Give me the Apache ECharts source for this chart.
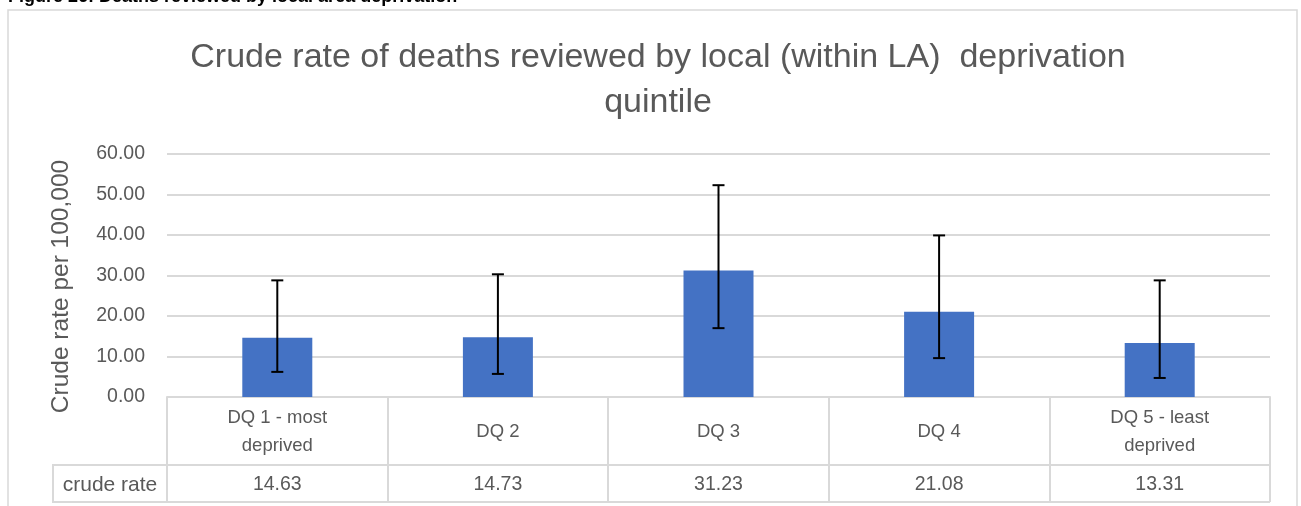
<!DOCTYPE html>
<html><head><meta charset="utf-8">
<script src="https://cdn.jsdelivr.net/npm/echarts@6/dist/echarts.min.js"></script>
<style>html,body{margin:0;padding:0;background:#fff;}#c{width:1301px;height:506px;}</style>
</head><body><div id="c"></div>
<script>
const categories = ['DQ 1 - most\ndeprived', 'DQ 2', 'DQ 3', 'DQ 4', 'DQ 5 - least\ndeprived'];
const crudeRate = [14.63, 14.73, 31.23, 21.08, 13.31];
const lowerCI = [6.2, 5.7, 17.0, 9.6, 4.7];
const upperCI = [28.8, 30.3, 52.3, 39.9, 28.8];
const yTicks = { min: 0, max: 60, interval: 10 };
const rowLabel = 'crude rate';
const titleText = 'Crude rate of deaths reviewed by local (within LA)  deprivation\nquintile';
const captionText = 'Figure 26: Deaths reviewed by local area deprivation';

const FONT = 'Liberation Sans';
const chart = echarts.init(document.getElementById('c'), null, { renderer: 'canvas' });
const lineCol = '#d9d9d9';
const txtCol = '#595959';

chart.setOption({
  animation: false,
  textStyle: { fontFamily: FONT },
  title: {
    text: titleText, left: 653, top: 30, textAlign: 'center',
    textStyle: { fontFamily: FONT, fontSize: 34, fontWeight: 'normal', color: txtCol, lineHeight: 45 }
  },
  grid: { left: 167, right: 31, top: 154, bottom: 109, containLabel: false },
  xAxis: [{
    type: 'category', data: categories, position: 'bottom',
    axisLine: { show: true, lineStyle: { color: lineCol, width: 2 } },
    axisTick: { show: true, length: 105, lineStyle: { color: lineCol, width: 2 } },
    axisLabel: { margin: 35, verticalAlign: 'middle', color: txtCol, fontSize: 18.5, lineHeight: 28, fontFamily: FONT, interval: 0 }
  }, {
    type: 'category', data: categories, position: 'bottom', offset: 67,
    axisLine: { show: false }, axisTick: { show: false },
    axisLabel: { margin: 21, verticalAlign: 'middle', color: txtCol, fontSize: 19.5, fontFamily: FONT, interval: 0,
      formatter: (v, i) => crudeRate[i].toFixed(2) }
  }],
  yAxis: {
    type: 'value', min: yTicks.min, max: yTicks.max, interval: yTicks.interval,
    name: 'Crude rate per 100,000', nameLocation: 'middle', nameGap: 93, nameRotate: 90,
    nameTextStyle: { color: txtCol, fontSize: 24.5, fontFamily: FONT, padding: [0, 22, 0, 0] },
    axisLine: { show: false }, axisTick: { show: false },
    axisLabel: { color: txtCol, fontSize: 19.5, margin: 22, fontFamily: FONT, formatter: v => v.toFixed(2) },
    splitLine: { lineStyle: { color: lineCol, width: 2 } }
  },
  series: [{
    type: 'bar', data: crudeRate, barWidth: 70, xAxisIndex: 0,
    itemStyle: { color: '#4472C4' }
  }, {
    type: 'custom', xAxisIndex: 0, z: 5,
    data: categories.map((c, i) => [i, lowerCI[i], upperCI[i]]),
    renderItem: function (params, api) {
      const x = api.value(0);
      const lo = api.coord([x, api.value(1)]);
      const hi = api.coord([x, api.value(2)]);
      const hw = 6;
      const st = { stroke: '#000', lineWidth: 2 };
      return { type: 'group', children: [
        { type: 'line', shape: { x1: lo[0], y1: lo[1], x2: hi[0], y2: hi[1] }, style: st },
        { type: 'line', shape: { x1: lo[0] - hw, y1: lo[1], x2: lo[0] + hw, y2: lo[1] }, style: st },
        { type: 'line', shape: { x1: hi[0] - hw, y1: hi[1], x2: hi[0] + hw, y2: hi[1] }, style: st }
      ]};
    }
  }],
  graphic: [
    { type: 'rect', shape: { x: 8, y: 10, width: 1289, height: 520 }, style: { fill: 'none', stroke: lineCol, lineWidth: 1.5 }, silent: true },
    { type: 'text', left: 8, top: -12, style: { text: captionText, fontFamily: FONT, fontSize: 18, fontWeight: 'bold', fill: '#000' } },
    { type: 'line', shape: { x1: 53, y1: 465, x2: 1270, y2: 465 }, style: { stroke: lineCol, lineWidth: 2 } },
    { type: 'line', shape: { x1: 53, y1: 502, x2: 1270, y2: 502 }, style: { stroke: lineCol, lineWidth: 2 } },
    { type: 'line', shape: { x1: 53, y1: 464, x2: 53, y2: 503 }, style: { stroke: lineCol, lineWidth: 2 } },
    { type: 'text', x: 110, y: 485, style: { text: rowLabel, fontFamily: FONT, fontSize: 21, fill: txtCol, align: 'center', verticalAlign: 'middle' } }
  ]
});
</script></body></html>
